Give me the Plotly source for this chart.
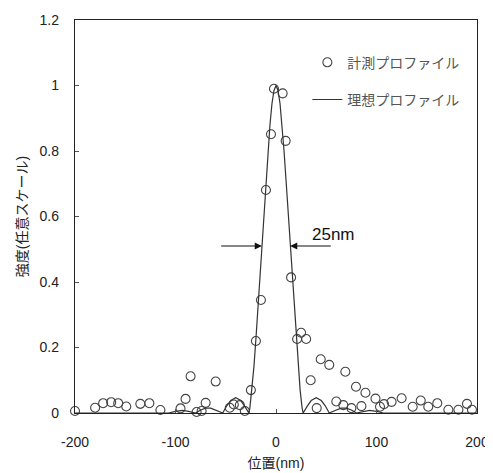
import plotly.graph_objects as go

# measured profile (circles)
meas_x = [-200, -180, -172, -164, -157, -149, -135, -126, -115, -95, -90, -85, -79, -74, -70, -60,
          -46, -42, -36, -31, -25, -20, -15, -10, -5, -2, 6.6, 9.6, 15, 21, 25, 30, 34.5, 40.5, 44.5,
          53, 60, 67, 69, 75, 79.6, 85, 89, 99, 103.5, 107.5, 115, 125, 136, 144, 151.5, 160.5,
          171.5, 181.5, 190, 195]
meas_y = [0.006, 0.016, 0.03, 0.033, 0.03, 0.02, 0.028, 0.03, 0.009, 0.014, 0.043, 0.112, 0.003, 0.006, 0.031, 0.096,
          0.016, 0.026, 0.024, 0.006, 0.07, 0.22, 0.345, 0.681, 0.851, 0.99, 0.976, 0.831, 0.414, 0.226, 0.245, 0.226,
          0.10, 0.015, 0.164, 0.147, 0.035, 0.024, 0.126, 0.015, 0.08, 0.021, 0.062, 0.044, 0.019, 0.027, 0.034,
          0.045, 0.019, 0.038, 0.019, 0.03, 0.01, 0.01, 0.028, 0.01]

# ideal profile (line)
ideal_x = [-200, -107, -100, -93, -87, -80, -75, -70, -65, -60, -53, -49, -45, -40, -35, -31, -27,
           -26, -24, -22, -20, -18, -16, -14, -12, -10, -8, -6, -4, -2, 0,
           2, 4, 6, 8, 10, 12, 14, 16, 18, 20, 22, 24, 26,
           27, 31, 35, 40, 45, 49, 53, 60, 65, 70, 75, 80, 87, 93, 100, 107, 200]
ideal_y = [0, 0, 0.005, 0.008, 0.005, 0, 0.009, 0.015, 0.015, 0.009, 0, 0.022, 0.038, 0.047, 0.038, 0.02, 0,
           0.015, 0.07, 0.14, 0.225, 0.32, 0.42, 0.52, 0.615, 0.71, 0.80, 0.88, 0.945, 0.985, 1.0,
           0.985, 0.945, 0.88, 0.80, 0.71, 0.615, 0.52, 0.42, 0.32, 0.225, 0.14, 0.07, 0.015,
           0, 0.02, 0.038, 0.047, 0.038, 0.022, 0, 0.009, 0.015, 0.015, 0.009, 0, 0.005, 0.008, 0.005, 0, 0]

x_ticks = [-200, -100, 0, 100, 200]
x_tick_labels = ["-200", "-100", "0", "100", "200"]
y_ticks = [0, 0.2, 0.4, 0.6, 0.8, 1.0, 1.2]
y_tick_labels = ["0", "0.2", "0.4", "0.6", "0.8", "1", "1.2"]

FONT = "Liberation Sans, Arial, Noto Sans CJK JP"

fig = go.Figure()
fig.add_trace(go.Scatter(
    x=meas_x, y=meas_y, mode="markers", name="計測プロファイル", legendgroup="a",
    marker=dict(symbol="circle-open", size=9, color="#444", line=dict(width=1.1)),
    cliponaxis=False))
fig.add_trace(go.Scatter(
    x=ideal_x, y=ideal_y, mode="lines", name="理想プロファイル", legendgroup="b",
    line=dict(color="#333", width=1.2), cliponaxis=False))

axis_common = dict(showgrid=False, zeroline=False, showline=True, linecolor="#222", linewidth=1.3,
                   mirror=True, ticks="inside", ticklen=4, tickcolor="#555", automargin=False,
                   tickfont=dict(family=FONT, size=14, color="#222"))

fig.update_xaxes(range=[-200, 200], tickvals=x_ticks, ticktext=x_tick_labels,
                 title=dict(text="位置(nm)", font=dict(family=FONT, size=14, color="#222"), standoff=9),
                 ticklabelstandoff=16, **axis_common)
fig.update_yaxes(range=[0, 1.2], tickvals=y_ticks, ticktext=y_tick_labels,
                 title=dict(text="強度(任意スケール)", font=dict(family=FONT, size=14, color="#222"), standoff=8),
                 ticklabelstandoff=12, **axis_common)

# FWHM arrows and label
fig.add_annotation(x=-14, y=0.51, ax=-56, ay=0.51, xref="x", yref="y", axref="x", ayref="y",
                   text="", showarrow=True, arrowhead=2, arrowsize=1.2, arrowwidth=1.2, arrowcolor="#111")
fig.add_annotation(x=14, y=0.51, ax=56, ay=0.51, xref="x", yref="y", axref="x", ayref="y",
                   text="", showarrow=True, arrowhead=2, arrowsize=1.2, arrowwidth=1.2, arrowcolor="#111")
fig.add_annotation(x=57, y=0.545, xref="x", yref="y", text="25nm", showarrow=False,
                   font=dict(family=FONT, size=17, color="#111"))

fig.update_layout(
    width=485, height=465,
    margin=dict(l=67, r=16, t=12, b=60),
    paper_bgcolor="white", plot_bgcolor="white",
    legend=dict(x=0.578, y=0.932, xanchor="left", yanchor="top", bgcolor="rgba(0,0,0,0)",
                tracegroupgap=16, font=dict(family=FONT, size=14, color="#555")),
    showlegend=True,
)

fig.write_html("out.html")
